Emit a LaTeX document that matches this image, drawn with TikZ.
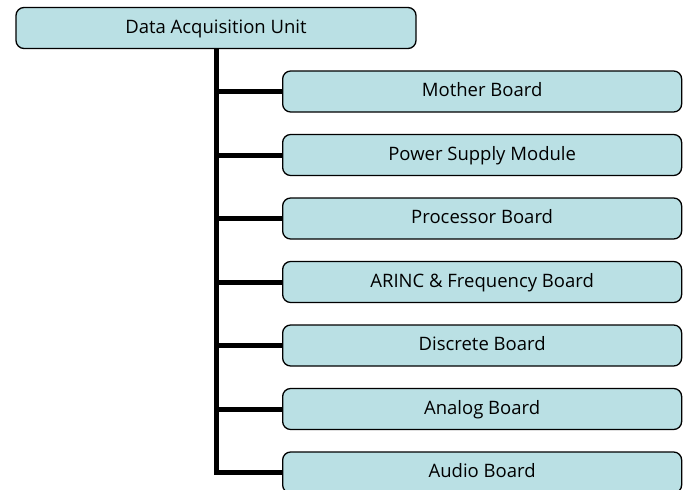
\documentclass[tikz,border=0pt]{standalone}
\usepackage{fontspec}
\setmainfont{Open Sans}
\definecolor{boxfill}{RGB}{186,224,228}
\begin{document}
\begin{tikzpicture}[x=1pt,y=-1pt,
  unitbox/.style={draw=black,line width=1.3pt,fill=boxfill,rounded corners=8pt,
    minimum height=41pt,inner sep=0pt,text height=13.5pt,text depth=3.5pt,
    font=\fontsize{18.5}{22}\selectfont},
  topbox/.style={unitbox,minimum width=400pt},
  subbox/.style={unitbox,minimum width=399pt},
  link/.style={line width=5pt,black}]
\useasboundingbox (0,0) rectangle (689,490);
\node[topbox] (dau) at (216,28) {Data Acquisition Unit};
\foreach \name/\label [count=\i from 0] in {
  mb/Mother Board,
  psm/Power Supply Module,
  pb/Processor Board,
  afb/ARINC \& Frequency Board,
  db/Discrete Board,
  ab/Analog Board,
  aud/Audio Board} {
  \node[subbox,anchor=west] (\name) at (282,{91.5+63.5*\i}) {\label};
}
\draw[link] (dau.south -| 216,0) -- (216,472.5) -- (aud.west);
\foreach \name in {mb,psm,pb,afb,db,ab}
  \draw[link] (\name.west -| 216,0) -- (\name.west);
\end{tikzpicture}
\end{document}
